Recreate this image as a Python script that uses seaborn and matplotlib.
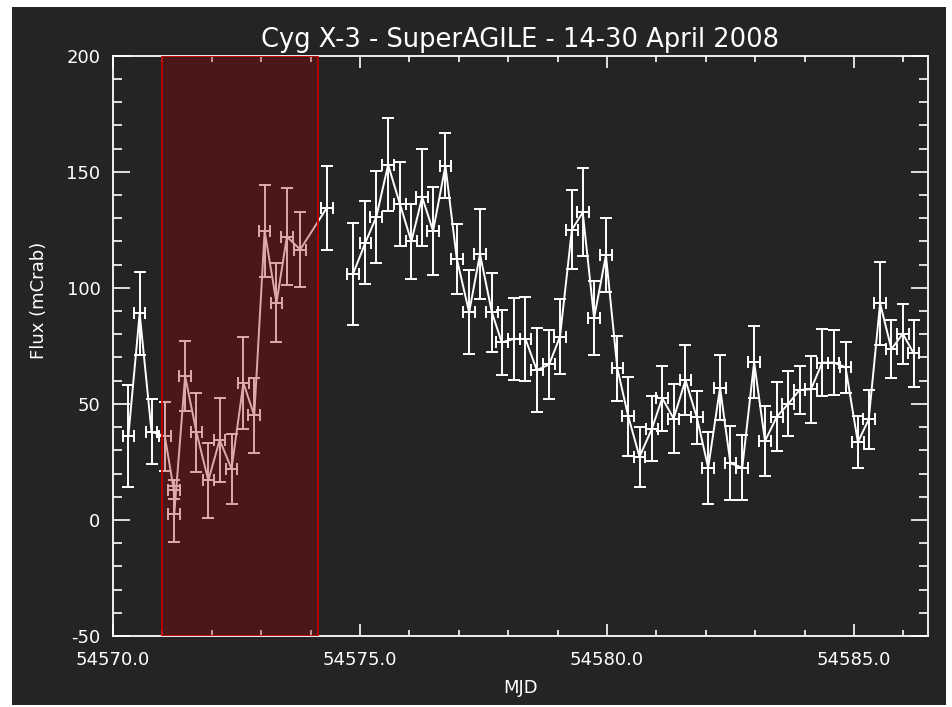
import numpy as np
import pandas as pd
import matplotlib
matplotlib.use("Agg")
import matplotlib.pyplot as plt
import seaborn as sns
from matplotlib.patches import Rectangle
from matplotlib.ticker import MultipleLocator, FormatStrFormatter

# SuperAGILE light curve of Cyg X-3, 14-30 April 2008
mjd = [
    54570.31, 54570.54, 54570.78, 54571.05, 54571.23, 54571.24, 54571.46, 54571.69,
    54571.93, 54572.16, 54572.40, 54572.64, 54572.86, 54573.07, 54573.31, 54573.52,
    54573.79, 54574.33,
    54574.86, 54575.11, 54575.33, 54575.57, 54575.81, 54576.04, 54576.26, 54576.48,
    54576.73, 54576.96, 54577.21, 54577.43, 54577.67, 54577.87, 54578.12, 54578.35,
    54578.58, 54578.83, 54579.05, 54579.29, 54579.51, 54579.74, 54579.98, 54580.21,
    54580.43, 54580.66, 54580.91, 54581.12, 54581.35, 54581.59, 54581.82, 54582.05,
    54582.29, 54582.50, 54582.74, 54582.98, 54583.20, 54583.44, 54583.67, 54583.90,
    54584.13, 54584.36, 54584.59, 54584.83, 54585.08, 54585.30, 54585.53, 54585.76,
    54585.99, 54586.21,
]
flux = [
    36.0, 89.0, 38.0, 36.0, 13.0, 2.5, 62.0, 37.7,
    17.0, 34.5, 22.0, 59.0, 45.0, 124.5, 93.5, 122.0,
    116.5, 134.5,
    106.0, 119.5, 130.5, 153.0, 136.0, 120.0, 139.0, 124.5,
    152.5, 112.5, 89.5, 114.5, 89.5, 76.5, 78.0, 78.0,
    64.5, 67.0, 79.0, 125.0, 132.5, 87.0, 114.0, 65.3,
    44.7, 27.2, 39.3, 52.5, 43.7, 60.2, 44.2, 22.5,
    57.0, 24.4, 22.5, 68.0, 34.0, 44.5, 50.0, 56.0,
    56.3, 67.8, 67.8, 65.8, 33.5, 43.3, 93.3, 73.6,
    80.2, 71.8,
]
flux_err = [
    22.0, 18.0, 14.0, 15.0, 4.0, 12.0, 15.0, 17.0,
    16.0, 18.0, 15.0, 20.0, 16.0, 20.0, 17.0, 21.0,
    16.0, 18.0,
    22.0, 18.0, 20.0, 20.0, 18.0, 16.0, 21.0, 19.0,
    14.0, 15.0, 18.0, 19.5, 17.0, 14.0, 17.5, 18.0,
    18.0, 15.0, 16.0, 17.0, 19.0, 16.0, 16.0, 14.0,
    17.0, 13.0, 14.0, 14.0, 15.0, 15.0, 11.5, 15.5,
    14.0, 16.0, 14.0, 15.5, 15.0, 15.0, 14.0, 10.5,
    14.5, 14.4, 14.0, 11.0, 11.3, 12.8, 18.0, 12.4,
    13.0, 14.5,
]
bin_half_width = 0.117          # days
gap_start = 54574.6             # no connecting line across the data gap
flare_start, flare_end = 54571.0, 54574.15

title = "Cyg X-3 - SuperAGILE - 14-30 April 2008"
xlabel = "MJD"
ylabel = "Flux (mCrab)"

df = pd.DataFrame({"mjd": mjd, "flux": flux, "err": flux_err})
df["segment"] = (df["mjd"] > gap_start).astype(int)

BG = "#242424"
FG = "white"

sns.set_theme(style="dark")
plt.rcParams.update({
    "font.family": ["DejaVu Sans"],
    "axes.unicode_minus": False,
    "text.color": FG,
    "axes.labelcolor": FG,
    "xtick.color": FG,
    "ytick.color": FG,
})

W, H = 953, 707
fig = plt.figure(figsize=(W / 100, H / 100), dpi=100, facecolor="white")
fig.add_artist(Rectangle((12 / W, 2 / H), (946 - 12) / W, (705 - 7) / H,
                         transform=fig.transFigure, facecolor=BG,
                         edgecolor="none", zorder=-10))

x0, x1, ytop, ybot = 113, 928, 55.7, 636
ax = fig.add_axes([x0 / W, (H - ybot) / H, (x1 - x0) / W, (ybot - ytop) / H])
ax.set_zorder(1)
ax.set_facecolor(BG)

ax.errorbar(df["mjd"], df["flux"], yerr=df["err"], xerr=bin_half_width,
            fmt="none", ecolor=FG, elinewidth=1.4, capsize=4.3, capthick=1.4,
            zorder=3)
sns.lineplot(data=df, x="mjd", y="flux", units="segment", estimator=None,
             sort=False, color=FG, linewidth=1.4, ax=ax, zorder=3, legend=False)

ax.axvspan(flare_start, flare_end, facecolor=(0.6, 0.0, 0.0, 0.33),
           edgecolor="#c00000", linewidth=1.3, zorder=6)

ax.set_xlim(54570.0, 54586.5)
ax.set_ylim(-50, 200)
ax.xaxis.set_major_locator(MultipleLocator(5))
ax.xaxis.set_minor_locator(MultipleLocator(1))
ax.yaxis.set_major_locator(MultipleLocator(50))
ax.yaxis.set_minor_locator(MultipleLocator(10))
ax.xaxis.set_major_formatter(FormatStrFormatter("%.1f"))

for side in ax.spines.values():
    side.set_color(FG)
    side.set_linewidth(1.3)
    side.set_visible(True)

ax.tick_params(which="both", direction="in", top=True, right=True,
               bottom=True, left=True, color=FG, width=1.2, labelsize=13)
ax.tick_params(axis="x", which="major", length=8.6, pad=11)
ax.tick_params(axis="x", which="minor", length=4.3)
ax.tick_params(axis="y", which="major", length=12.2, pad=9)
ax.tick_params(axis="y", which="minor", length=6.5)
ax.grid(False)

ax.set_title(title, fontsize=18.5, color=FG, pad=6)
ax.set_xlabel(xlabel, fontsize=13, color=FG)
ax.set_ylabel(ylabel, fontsize=13, color=FG)
ax.xaxis.set_label_coords(0.5, -0.074)
ax.yaxis.set_label_coords(-0.08, (H - 300 - (H - ybot)) / (ybot - ytop))

fig.savefig("out.png", dpi=100, facecolor=fig.get_facecolor())
